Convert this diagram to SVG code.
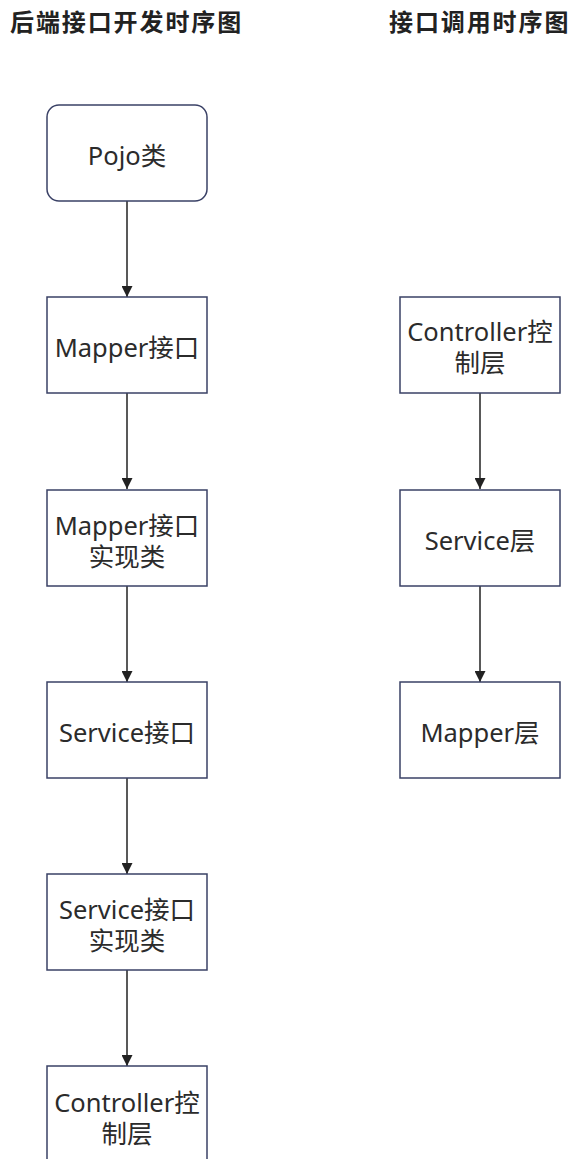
<svg xmlns="http://www.w3.org/2000/svg" width="570" height="1159" viewBox="0 0 570 1159">
  <style>
    .title { font-family: "Noto Sans CJK SC", "Noto Sans", sans-serif; font-size: 24px; font-weight: bold; fill: #222; }
    .box { fill: #ffffff; stroke: #3a4166; stroke-width: 1.5; }
    .label { font-family: "Noto Sans", "Noto Sans CJK SC", sans-serif; font-size: 25.5px; fill: #2b2b2b; text-anchor: middle; }
    .edge { stroke: #222; stroke-width: 1.5; fill: none; marker-end: url(#arrow); }
  </style>
  <defs>
    <marker id="arrow" viewBox="0 0 10 10" refX="10" refY="5" markerWidth="11" markerHeight="11" markerUnits="userSpaceOnUse" orient="auto">
      <path d="M0,0 L10,5 L0,10 Z" fill="#222"/>
    </marker>
  </defs>
  <rect width="570" height="1159" fill="#ffffff"/>

  <text class="title" x="10" y="31" letter-spacing="1.9">后端接口开发时序图</text>
  <text class="title" x="389" y="31" letter-spacing="1.9">接口调用时序图</text>

  <!-- connectors -->
  <g id="connectors">
    <line class="edge" x1="127" y1="201" x2="127" y2="297"/>
    <line class="edge" x1="127" y1="393" x2="127" y2="489"/>
    <line class="edge" x1="127" y1="586" x2="127" y2="682"/>
    <line class="edge" x1="127" y1="778" x2="127" y2="874"/>
    <line class="edge" x1="127" y1="970" x2="127" y2="1066"/>
    <line class="edge" x1="480" y1="393" x2="480" y2="489"/>
    <line class="edge" x1="480" y1="586" x2="480" y2="682"/>
  </g>

  <!-- left column: development order -->
  <g id="pojo">
    <rect class="box" x="47" y="105" width="160" height="96" rx="12"/>
    <text class="label" x="127" y="165">Pojo类</text>
  </g>
  <g id="mapper-interface">
    <rect class="box" x="47" y="297" width="160" height="96"/>
    <text class="label" x="127" y="357">Mapper接口</text>
  </g>
  <g id="mapper-impl">
    <rect class="box" x="47" y="490" width="160" height="96"/>
    <text class="label" x="127" y="535">Mapper接口<tspan x="127" dy="31">实现类</tspan></text>
  </g>
  <g id="service-interface">
    <rect class="box" x="47" y="682" width="160" height="96"/>
    <text class="label" x="127" y="742">Service接口</text>
  </g>
  <g id="service-impl">
    <rect class="box" x="47" y="874" width="160" height="96"/>
    <text class="label" x="127" y="919">Service接口<tspan x="127" dy="31">实现类</tspan></text>
  </g>
  <g id="controller-left">
    <rect class="box" x="47" y="1066" width="160" height="96"/>
    <text class="label" x="127" y="1112">Controller控<tspan x="127" dy="31">制层</tspan></text>
  </g>

  <!-- right column: call order -->
  <g id="controller-right">
    <rect class="box" x="400" y="297" width="160" height="96"/>
    <text class="label" x="480" y="341">Controller控<tspan x="480" dy="31">制层</tspan></text>
  </g>
  <g id="service-layer">
    <rect class="box" x="400" y="490" width="160" height="96"/>
    <text class="label" x="480" y="550">Service层</text>
  </g>
  <g id="mapper-layer">
    <rect class="box" x="400" y="682" width="160" height="96"/>
    <text class="label" x="480" y="742">Mapper层</text>
  </g>
</svg>
